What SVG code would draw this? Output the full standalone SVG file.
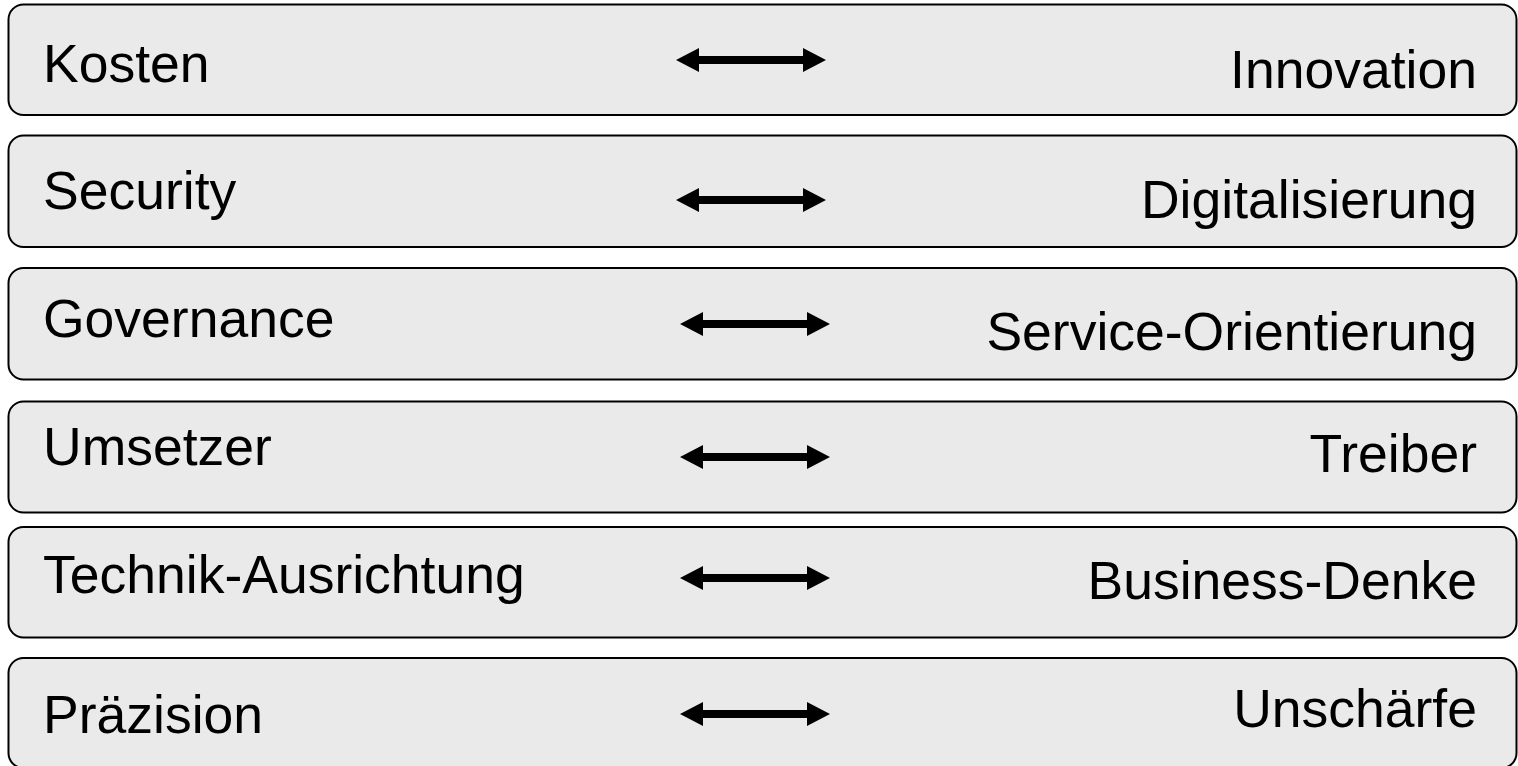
<svg xmlns="http://www.w3.org/2000/svg" width="1518" height="766" viewBox="0 0 1518 766">
<defs>
<style>
.box{fill:#EAEAEA;stroke:#000;stroke-width:2}
.t{font-family:"Liberation Sans",Arial,sans-serif;font-size:53.5px;fill:#000}
.r{text-anchor:end}
.arr{fill:#000}
</style>
<path id="dbl" d="M0,0 L23,-12 L23,-4 L127,-4 L127,-12 L150,0 L127,12 L127,4 L23,4 L23,12 Z"/>
</defs>
<rect width="1518" height="766" fill="#fff"/>
<g id="row1">
<rect class="box" x="8.5" y="4.5" width="1508" height="110.5" rx="15"/>
<text class="t" x="43" y="82">Kosten</text>
<text class="t r" x="1477" y="88">Innovation</text>
</g>
<g id="row2">
<rect class="box" x="8.5" y="135.5" width="1508" height="111.5" rx="15"/>
<text class="t" x="43" y="209">Security</text>
<text class="t r" x="1477" y="218">Digitalisierung</text>
</g>
<g id="row3">
<rect class="box" x="8.5" y="268" width="1508" height="111.5" rx="15"/>
<text class="t" x="43" y="337">Governance</text>
<text class="t r" x="1477" y="350">Service-Orientierung</text>
</g>
<g id="row4">
<rect class="box" x="8.5" y="401.5" width="1508" height="111" rx="15"/>
<text class="t" x="43" y="465">Umsetzer</text>
<text class="t r" x="1477" y="472">Treiber</text>
</g>
<g id="row5">
<rect class="box" x="8.5" y="527" width="1508" height="110.5" rx="15"/>
<text class="t" x="43" y="593">Technik-Ausrichtung</text>
<text class="t r" x="1477" y="599">Business-Denke</text>
</g>
<g id="row6">
<rect class="box" x="8.5" y="658" width="1508" height="110" rx="15"/>
<text class="t" x="43" y="733">Präzision</text>
<text class="t r" x="1477" y="727">Unschärfe</text>
</g>
<g id="connectors" class="arr">
<use href="#dbl" x="676" y="60"/>
<use href="#dbl" x="676" y="200"/>
<use href="#dbl" x="680" y="324"/>
<use href="#dbl" x="680" y="457"/>
<use href="#dbl" x="680" y="578"/>
<use href="#dbl" x="680" y="714"/>
</g>
</svg>
